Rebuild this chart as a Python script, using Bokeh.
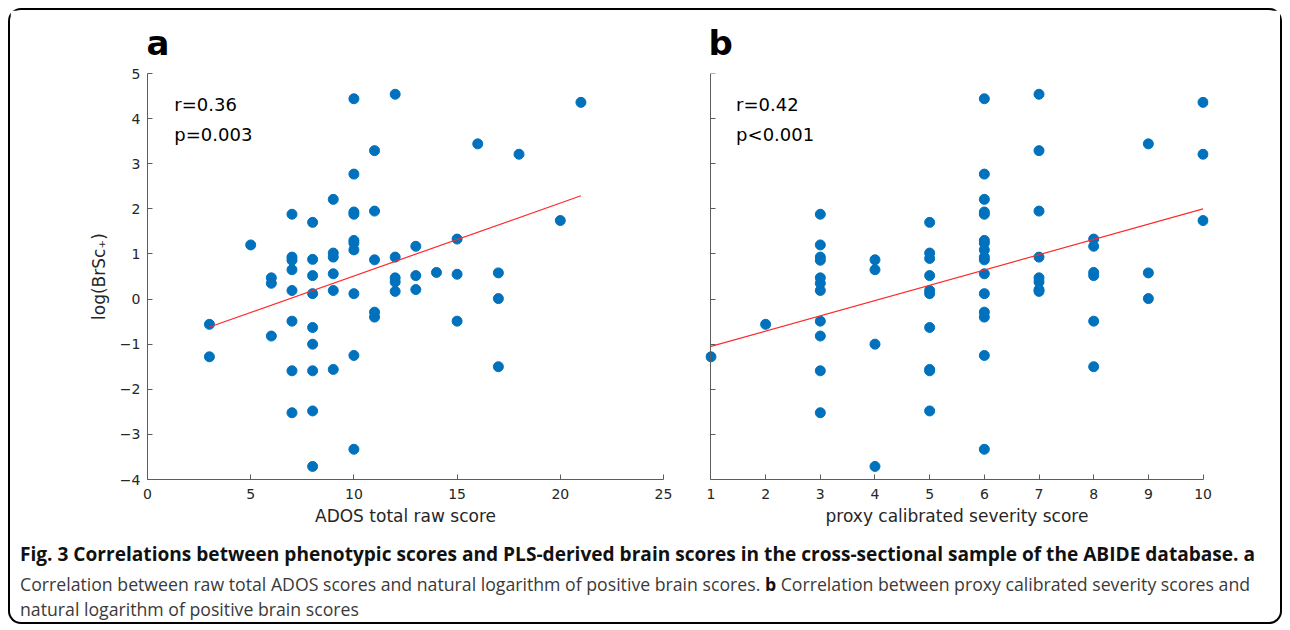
from bokeh.plotting import figure
from bokeh.models import Range1d, FixedTicker, Label, Div, ColumnDataSource
from bokeh.layouts import row, column
from bokeh.embed import file_html
from bokeh.resources import INLINE

# ---------------- data ----------------
ados_x = [3, 3,
          5,
          6, 6, 6,
          7, 7, 7, 7, 7, 7, 7, 7,
          8, 8, 8, 8, 8, 8, 8, 8, 8,
          9, 9, 9, 9, 9, 9,
          10, 10, 10, 10, 10, 10, 10, 10, 10, 10,
          11, 11, 11, 11, 11,
          12, 12, 12, 12, 12,
          13, 13, 13,
          14,
          15, 15, 15,
          16,
          17, 17, 17,
          18,
          20,
          21]
ados_y = [-0.56, -1.28,
          1.20,
          0.47, 0.35, -0.82,
          1.88, 0.93, 0.86, 0.65, 0.19, -0.49, -1.59, -2.52,
          1.70, 0.88, 0.52, 0.12, -0.63, -1.00, -1.59, -2.48, -3.71,
          2.21, 1.02, 0.93, 0.56, 0.19, -1.56,
          4.44, 2.77, 1.93, 1.88, 1.30, 1.24, 1.09, 0.12, -1.25, -3.33,
          3.29, 1.95, 0.87, -0.29, -0.40,
          4.54, 0.93, 0.47, 0.38, 0.17,
          1.17, 0.52, 0.21,
          0.59,
          1.33, 0.55, -0.49,
          3.44,
          0.58, 0.01, -1.50,
          3.21,
          1.74,
          4.36]

css_x = [1,
         2,
         3, 3, 3, 3, 3, 3, 3, 3, 3, 3, 3,
         4, 4, 4, 4,
         5, 5, 5, 5, 5, 5, 5, 5, 5, 5,
         6, 6, 6, 6, 6, 6, 6, 6, 6, 6, 6, 6, 6, 6, 6, 6,
         7, 7, 7, 7, 7, 7, 7, 7,
         8, 8, 8, 8, 8, 8,
         9, 9, 9,
         10, 10, 10]
css_y = [-1.28,
         -0.56,
         1.88, 1.20, 0.93, 0.86, 0.47, 0.35, 0.19, -0.49, -0.82, -1.59, -2.52,
         0.87, 0.65, -1.00, -3.71,
         1.70, 1.02, 0.90, 0.52, 0.19, 0.12, -0.63, -1.56, -1.59, -2.48,
         4.44, 2.77, 2.21, 1.93, 1.88, 1.30, 1.24, 1.09, 0.93, 0.87, 0.56, 0.12, -0.29, -0.40, -1.25, -3.33,
         4.54, 3.29, 1.95, 0.93, 0.47, 0.38, 0.21, 0.17,
         1.33, 1.17, 0.59, 0.52, -0.49, -1.50,
         3.44, 0.58, 0.01,
         4.36, 3.21, 1.74]

fit_a_x = [3, 21]
fit_a_y = [-0.62, 2.29]
fit_b_x = [1, 10]
fit_b_y = [-1.05, 2.00]

y_ticks = [-4, -3, -2, -1, 0, 1, 2, 3, 4, 5]
a_x_ticks = [0, 5, 10, 15, 20, 25]
b_x_ticks = [1, 2, 3, 4, 5, 6, 7, 8, 9, 10]

stats_a = ["r=0.36", "p=0.003"]
stats_b = ["r=0.42", "p<0.001"]

DOT = "#0072BD"
AXC = "#5c5c5c"
TXT = "#262626"
FONT = "DejaVu Sans"


def style(p, xticks, show_ylabels, title_offset):
    p.xgrid.visible = False
    p.ygrid.visible = False
    p.outline_line_color = None
    p.title.text_font = FONT
    p.title.text_font_size = "34px"
    p.title.text_font_style = "bold"
    p.title.text_color = "black"
    p.title.align = "left"
    p.title.offset = title_offset
    p.title.standoff = 21
    for ax in (p.xaxis[0], p.yaxis[0]):
        ax.axis_line_color = AXC
        ax.axis_line_width = 1
        ax.major_tick_line_color = AXC
        ax.major_tick_in = 5
        ax.major_tick_out = 0
        ax.minor_tick_line_color = None
        ax.major_label_text_font = FONT
        ax.major_label_text_font_size = "14px"
        ax.major_label_text_color = TXT
        ax.axis_label_text_font = FONT
        ax.axis_label_text_font_size = "17px"
        ax.axis_label_text_font_style = "normal"
        ax.axis_label_text_color = TXT
    p.xaxis[0].ticker = FixedTicker(ticks=xticks)
    p.yaxis[0].ticker = FixedTicker(ticks=y_ticks)
    p.xaxis[0].major_label_standoff = 9
    p.xaxis[0].axis_label_standoff = 4
    p.yaxis[0].major_label_standoff = 7
    p.yaxis[0].axis_label_standoff = 8
    if not show_ylabels:
        p.yaxis[0].major_label_overrides = {t: "" for t in y_ticks}


# ---------------- panel a ----------------
pa = figure(output_backend="svg", toolbar_location=None, title="a",
            x_range=Range1d(0, 25), y_range=Range1d(-4, 5),
            frame_width=516, frame_height=406,
            min_border_left=137, min_border_right=20,
            min_border_top=62, min_border_bottom=62,
            x_axis_label="ADOS total raw score",
            y_axis_label="log(BrSc\u208A)")
style(pa, a_x_ticks, True, -1)
src_a = ColumnDataSource(dict(x=ados_x, y=ados_y))
pa.scatter("x", "y", source=src_a, size=10, fill_color=DOT, line_color=DOT)
pa.line(fit_a_x, fit_a_y, line_color="#ff2a2a", line_width=1.2)
pa.add_layout(Label(x=1.3, y=4.09, text=stats_a[0], text_font=FONT,
                    text_font_size="18px", text_color="black"))
pa.add_layout(Label(x=1.3, y=3.41, text=stats_a[1], text_font=FONT,
                    text_font_size="18px", text_color="black"))

# ---------------- panel b ----------------
pb = figure(output_backend="svg", toolbar_location=None, title="b",
            x_range=Range1d(0.9, 10.1), y_range=Range1d(-4, 5),
            frame_width=503, frame_height=406,
            min_border_left=22, min_border_right=72,
            min_border_top=62, min_border_bottom=62,
            x_axis_label="proxy calibrated severity score")
style(pb, b_x_ticks, False, 3)
pb.yaxis[0].fixed_location = 1
pb.xaxis[0].bounds = (1, 10)
src_b = ColumnDataSource(dict(x=css_x, y=css_y))
pb.scatter("x", "y", source=src_b, size=10, fill_color=DOT, line_color=DOT)
pb.line(fit_b_x, fit_b_y, line_color="#ff2a2a", line_width=1.2)
pb.add_layout(Label(x=1.46, y=4.09, text=stats_b[0], text_font=FONT,
                    text_font_size="18px", text_color="black"))
pb.add_layout(Label(x=1.46, y=3.41, text=stats_b[1], text_font=FONT,
                    text_font_size="18px", text_color="black"))

caption_html = (
    '<div style="font-family:\'Open Sans\'; white-space:nowrap; color:#3a3a3a; '
    'padding-left:10px;">'
    '<div style="font-size:19.1px; line-height:26px; font-weight:bold; color:#111; '
    'margin-bottom:5px;">Fig. 3 Correlations between phenotypic scores and PLS-derived brain '
    'scores in the cross-sectional sample of the ABIDE database. a</div>'
    '<div style="font-size:17.7px; line-height:25px;">'
    'Correlation between raw total ADOS scores and natural logarithm of positive brain scores. '
    '<b style="color:#111">b</b> Correlation between proxy calibrated severity scores and<br>'
    'natural logarithm of positive brain scores</div></div>'
)
cap = Div(text=caption_html, width=1270, height=81, margin=0)

layout = column(row(pa, pb), cap, margin=(10, 10, 0, 10),
                styles={"box-shadow": "0 0 0 2px black", "border-radius": "11px",
                        "background-color": "white"})

open("out.html", "w").write(file_html(layout, INLINE))
